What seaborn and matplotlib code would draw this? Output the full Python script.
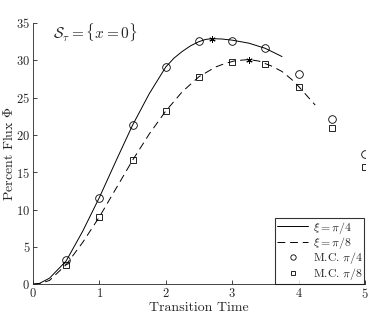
import numpy as np
import pandas as pd
import matplotlib
matplotlib.use('Agg')
import matplotlib.pyplot as plt
import seaborn as sns

sns.set_style('ticks')
matplotlib.rcParams['font.family'] = 'serif'
matplotlib.rcParams['font.serif'] = ['cmr10', 'DejaVu Serif']
matplotlib.rcParams['mathtext.fontset'] = 'cm'
matplotlib.rcParams['axes.formatter.use_mathtext'] = True
matplotlib.rcParams['xtick.direction'] = 'in'
matplotlib.rcParams['ytick.direction'] = 'in'

# curves
t_pi4 = [0, 0.1, 0.25, 0.5, 0.75, 1.0, 1.25, 1.5, 1.75, 2.0, 2.125, 2.25, 2.375, 2.5, 2.6, 2.7,
         2.85, 3.0, 3.25, 3.5, 3.75]
phi_pi4 = [0, 0.1, 0.8, 3.1, 7.1, 11.6, 16.5, 21.3, 25.5, 29.1, 30.3, 31.2, 31.95, 32.5, 32.8, 32.9,
           32.85, 32.7, 32.3, 31.6, 30.5]
t_pi8 = [0, 0.1, 0.25, 0.5, 0.75, 1.0, 1.25, 1.5, 1.75, 2.0, 2.25, 2.5, 2.75, 2.9, 3.05, 3.25,
         3.4, 3.6, 3.75, 3.9, 4.0, 4.1, 4.25]
phi_pi8 = [0, 0.05, 0.5, 2.6, 5.6, 9.0, 12.8, 16.6, 20.1, 23.2, 25.8, 27.8, 29.1, 29.6, 29.95, 30.1,
           29.9, 29.2, 28.5, 27.4, 26.5, 25.5, 24.0]

# Monte Carlo points
t_mc = [0.5, 1.0, 1.5, 2.0, 2.5, 3.0, 3.5, 4.0, 4.5, 5.0]
mc_pi4 = [3.2, 11.6, 21.3, 29.1, 32.6, 32.6, 31.6, 28.1, 22.1, 17.4]
mc_pi8 = [2.5, 9.0, 16.6, 23.2, 27.8, 29.8, 29.5, 26.4, 20.9, 15.7]

# peak markers
t_peak = [2.7, 3.25]
phi_peak = [32.9, 30.1]

fig = plt.figure(figsize=(3.74, 3.15), dpi=100)
ax = fig.add_axes([0.088, 0.098, 0.888, 0.829])

sns.lineplot(x=t_pi4, y=phi_pi4, ax=ax, color='k', lw=0.7, label=r'$\xi = \pi/4$')
sns.lineplot(x=t_pi8, y=phi_pi8, ax=ax, color='k', lw=0.7, label=r'$\xi = \pi/8$')
ax.lines[1].set_dashes([8, 5])
ax.plot(t_mc, mc_pi4, 'o', mfc='none', mec='k', ms=5.5, mew=0.6, label=r'M.C. $\pi/4$')
ax.plot(t_mc, mc_pi8, 's', mfc='none', mec='k', ms=5, mew=0.6, label=r'M.C. $\pi/8$')
ax.plot(t_peak, phi_peak, marker=(6, 2, 0), ls='none', color='k', ms=4.5, mew=0.7)

ax.text(0.3, 33.8, r'$\mathcal{S}_\tau = \{x=0\}$', fontsize=11, va='center')

ax.set_xlim(0, 5)
ax.set_ylim(0, 35)
ax.set_xticks(range(0, 6))
ax.set_yticks(range(0, 36, 5))
ax.tick_params(labelsize=9, length=3, width=0.6, pad=2)
ax.set_xlabel('Transition Time', fontsize=10, labelpad=1)
ax.set_ylabel(r'Percent Flux $\Phi$', fontsize=10)
ax.yaxis.set_label_coords(-0.052, 0.5)
for s in ['left', 'bottom']:
    ax.spines[s].set_linewidth(0.6)
sns.despine(ax=ax)

leg = ax.legend(loc='lower right', fontsize=8.5, frameon=True, fancybox=False,
                edgecolor='k', borderaxespad=0.05, handlelength=2.6,
                labelspacing=-0.05, borderpad=0.15, handletextpad=0.4, markerscale=0.7)
leg.get_frame().set_linewidth(0.8)

fig.savefig('out.png', dpi=100)
